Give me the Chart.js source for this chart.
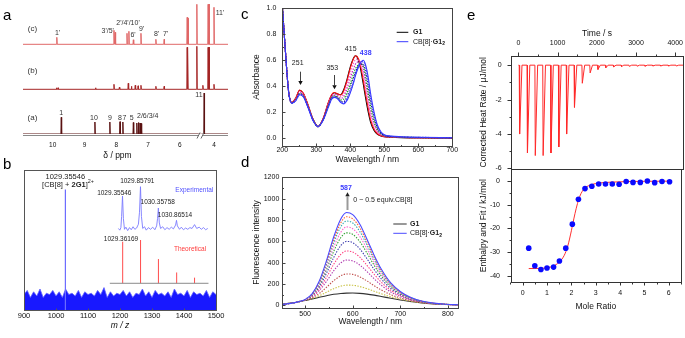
<!DOCTYPE html>
<html lang="en">
<head>
<meta charset="UTF-8">
<meta name="viewport" content="width=device-width, initial-scale=1.0">
<title>G1 / CB[8] host-guest characterisation</title>
<script src="https://cdn.jsdelivr.net/npm/chart.js@4"></script>
<style>
  body { margin: 0; background: #fff; }
  #fig { position: relative; width: 685px; height: 338px; overflow: hidden; background: #fff; }
  #fig canvas { position: absolute; }
  .tag { position: absolute; font: 15px 'Liberation Sans', Arial, sans-serif; line-height: 1; color: #000; }
</style>
</head>
<body>
<div id="fig">
  <canvas id="nmr" width="232" height="161" style="left:0;top:0"></canvas>
  <canvas id="ms" width="232" height="171" style="left:0;top:160px"></canvas>
  <canvas id="uv" width="240" height="165" style="left:220px;top:0"></canvas>
  <canvas id="fl" width="240" height="162" style="left:220px;top:165px"></canvas>
  <canvas id="itcRaw" width="225" height="175" style="left:460px;top:0"></canvas>
  <canvas id="itcFit" width="225" height="147" style="left:460px;top:165px"></canvas>
  <div class="tag" style="left:3px;top:7px">a</div>
  <div class="tag" style="left:3px;top:156px">b</div>
  <div class="tag" style="left:241px;top:6px">c</div>
  <div class="tag" style="left:241px;top:154px">d</div>
  <div class="tag" style="left:467px;top:7px">e</div>
</div>

<script>
const FONT = "'Liberation Sans', Arial, sans-serif";
Chart.defaults.font.family = FONT;
Chart.defaults.color = '#111';

// ---- a: 1H NMR, peaks as [ppm, relative height] ----
const nmrTicks = [10, 9, 8, 7, 6, 4];
const nmrFree = [[9.73, 16.7], [8.67, 12], [8.20, 12], [7.88, 12.3], [7.79, 12], [7.46, 11.5],
  [7.35, 11], [7.30, 11.5], [7.25, 11], [7.21, 10.5], [4.31, 41]];
const nmrMix = [[9.88, 1.5], [9.83, 1.5], [8.65, 1.5], [8.07, 5], [7.90, 2], [7.62, 6], [7.52, 3],
  [7.40, 4], [7.31, 3.5], [7.22, 4], [6.75, 3], [6.49, 3], [5.765, 42], [5.745, 42], [5.46, 43],
  [4.35, 4], [4.185, 42], [4.155, 42], [4.00, 5]];
const nmrComplex = [[9.87, 7], [8.07, 14], [8.03, 12], [7.66, 11], [7.60, 13], [7.46, 4.5], [7.22, 11],
  [6.75, 5], [6.49, 5], [5.765, 27], [5.735, 26], [5.46, 40], [4.185, 40], [4.155, 40], [4.00, 37]];

// ---- b: ESI-MS ----
const msTicks = [900, 1000, 1100, 1200, 1300, 1400, 1500];
const msPeakMz = [1029.355];
const msPeakInt = [86];
const noiseStart = 900, noiseStep = 10;
const msNoise = [11, 14, 9, 13, 10, 15, 9, 12, 11, 14, 10, 13, 9, 15, 11, 12, 10, 14, 9, 13, 11, 12, 10, 14,
  11, 16, 9, 13, 10, 12, 11, 14, 10, 13, 9, 12, 11, 15, 10, 13, 9, 14, 11, 12, 10, 13, 9, 15, 11, 12, 10,
  14, 9, 13, 11, 12, 10, 14, 9, 13, 11];
const expMz = [1029.24, 1029.28, 1029.31, 1029.33, 1029.355, 1029.38, 1029.41, 1029.45, 1029.5, 1029.55,
  1029.6, 1029.65, 1029.7, 1029.75, 1029.8, 1029.83, 1029.858, 1029.885, 1029.92, 1029.97, 1030.02,
  1030.08, 1030.14, 1030.2, 1030.26, 1030.31, 1030.335, 1030.358, 1030.385, 1030.42, 1030.48, 1030.54,
  1030.6, 1030.66, 1030.72, 1030.78, 1030.84, 1030.865, 1030.89, 1030.95, 1031.0, 1031.06, 1031.12,
  1031.18, 1031.24, 1031.3, 1031.37, 1031.43, 1031.5, 1031.56, 1031.62, 1031.68, 1031.74];
const expInt = [2, -2, 4, 30, 78, 25, 0, 5, -3, 4, -1, 6, 0, 3, 12, 40, 100, 30, 2, 6, -2, 4, 0, 5, -1, 8,
  25, 50, 15, 2, 6, -1, 4, 0, 5, 1, 10, 21, 8, 0, 5, -1, 3, 0, 4, 2, 11, 2, 5, 0, 4, -1, 2];
const theoMz = [1029.36, 1029.86, 1030.36, 1030.87, 1031.37];
const theoInt = [96, 100, 56, 25, 13];
const theoRange = [1029.0, 1031.76];

// ---- c: UV-vis titration ----
const uvWl = [200, 205, 210, 215, 220, 228, 240, 251, 262, 275, 290, 305, 320, 335, 345, 353, 362, 372, 380,
  390, 400, 410, 415, 420, 428, 438, 445, 452, 460, 470, 480, 490, 500, 520, 550, 600, 700];
const uvG1 = [1.02, 0.83, 0.64, 0.46, 0.33, 0.275, 0.31, 0.37, 0.345, 0.26, 0.15, 0.09, 0.15, 0.27, 0.33, 0.35,
  0.34, 0.335, 0.37, 0.45, 0.55, 0.62, 0.635, 0.625, 0.56, 0.42, 0.31, 0.21, 0.12, 0.06, 0.03, 0.018, 0.012,
  0.008, 0.005, 0.003, 0.0];
const uvEq1 = [1.02, 0.83, 0.64, 0.46, 0.33, 0.275, 0.312, 0.372, 0.347, 0.262, 0.15, 0.09, 0.15, 0.272, 0.335,
  0.352, 0.343, 0.333, 0.36, 0.44, 0.54, 0.615, 0.635, 0.63, 0.58, 0.45, 0.34, 0.24, 0.14, 0.07, 0.035, 0.02,
  0.013, 0.009, 0.006, 0.004, 0.001];
const uvEq2 = [1.02, 0.83, 0.64, 0.46, 0.33, 0.274, 0.305, 0.36, 0.337, 0.255, 0.148, 0.09, 0.148, 0.262, 0.325,
  0.34, 0.333, 0.32, 0.34, 0.41, 0.50, 0.58, 0.605, 0.61, 0.585, 0.49, 0.38, 0.28, 0.17, 0.09, 0.045, 0.025,
  0.016, 0.01, 0.007, 0.004, 0.001];
const uvEq3 = [1.02, 0.83, 0.64, 0.46, 0.33, 0.273, 0.30, 0.352, 0.33, 0.25, 0.145, 0.09, 0.145, 0.256, 0.318,
  0.333, 0.325, 0.307, 0.32, 0.38, 0.46, 0.54, 0.57, 0.585, 0.59, 0.53, 0.43, 0.32, 0.20, 0.11, 0.055, 0.03,
  0.018, 0.011, 0.008, 0.005, 0.002];
const uvEq4 = [1.02, 0.83, 0.64, 0.46, 0.33, 0.272, 0.297, 0.345, 0.325, 0.246, 0.143, 0.09, 0.143, 0.25, 0.312,
  0.327, 0.318, 0.295, 0.30, 0.35, 0.42, 0.50, 0.535, 0.555, 0.575, 0.555, 0.47, 0.36, 0.24, 0.13, 0.065, 0.035,
  0.02, 0.012, 0.009, 0.006, 0.002];
const uvEq5 = [1.02, 0.83, 0.64, 0.46, 0.33, 0.271, 0.295, 0.34, 0.322, 0.244, 0.141, 0.09, 0.141, 0.245, 0.307,
  0.322, 0.312, 0.285, 0.28, 0.32, 0.39, 0.47, 0.51, 0.54, 0.57, 0.57, 0.51, 0.41, 0.28, 0.16, 0.08, 0.04,
  0.022, 0.013, 0.01, 0.007, 0.003];
const uvEq6 = [1.02, 0.83, 0.64, 0.46, 0.33, 0.27, 0.293, 0.337, 0.32, 0.242, 0.14, 0.09, 0.14, 0.24, 0.303,
  0.318, 0.308, 0.278, 0.27, 0.30, 0.36, 0.44, 0.49, 0.53, 0.575, 0.59, 0.55, 0.45, 0.31, 0.18, 0.09, 0.045,
  0.025, 0.015, 0.011, 0.008, 0.004];
const uvComplex = [1.02, 0.83, 0.64, 0.46, 0.33, 0.27, 0.29, 0.335, 0.318, 0.24, 0.138, 0.09, 0.138, 0.236, 0.30,
  0.315, 0.305, 0.275, 0.265, 0.29, 0.35, 0.43, 0.48, 0.52, 0.57, 0.60, 0.565, 0.48, 0.34, 0.20, 0.10, 0.05,
  0.028, 0.017, 0.012, 0.008, 0.004];
const uvXTicks = [200, 300, 400, 500, 600, 700];
const uvYTicks = [0, 0.2, 0.4, 0.6, 0.8, 1.0];

// ---- d: fluorescence titration ----
const flWl = [452, 470, 485, 500, 515, 530, 545, 560, 575, 587, 600, 615, 630, 645, 660, 680, 700, 720, 745, 770, 795, 822];
const flEq0 = [10, 20, 32, 45, 60, 75, 90, 103, 111, 114, 115, 112, 105, 95, 83, 66, 50, 36, 22, 13, 7, 4];
const flEq1 = [10, 20, 32, 46, 65, 90, 123, 156, 180, 189, 188, 176, 156, 132, 108, 80, 58, 40, 24, 14, 7, 4];
const flEq2 = [10, 20, 32, 47, 72, 112, 169, 231, 277, 294, 290, 266, 228, 184, 144, 100, 69, 46, 26, 15, 8, 4];
const flEq3 = [9, 19, 32, 49, 81, 139, 225, 323, 398, 424, 416, 378, 316, 249, 188, 125, 83, 53, 29, 16, 8, 4];
const flEq4 = [9, 19, 32, 50, 86, 156, 263, 384, 477, 509, 499, 451, 374, 291, 217, 141, 92, 58, 31, 17, 9, 5];
const flEq5 = [9, 19, 32, 51, 92, 175, 302, 448, 560, 599, 587, 528, 436, 336, 248, 158, 101, 63, 34, 17, 9, 5];
const flEq6 = [9, 19, 32, 52, 97, 191, 337, 505, 634, 679, 665, 597, 490, 376, 275, 174, 110, 67, 35, 18, 9, 5];
const flEq7 = [8, 18, 32, 53, 101, 202, 361, 544, 685, 735, 718, 644, 528, 403, 294, 184, 116, 70, 37, 19, 9, 5];
const flEq8 = [8, 18, 32, 54, 105, 214, 385, 583, 736, 790, 772, 691, 565, 430, 313, 195, 122, 74, 38, 19, 10, 5];
const flEq9 = [8, 18, 32, 54, 107, 222, 403, 611, 773, 830, 811, 726, 593, 450, 326, 202, 126, 76, 39, 20, 10, 5];
const flEq10 = [8, 18, 32, 55, 110, 230, 420, 640, 810, 870, 850, 760, 620, 470, 340, 210, 130, 78, 40, 20, 10, 5];
const flXTicks = [500, 600, 700, 800];
const flYTicks = [0, 200, 400, 600, 800, 1000, 1200];

// ---- e: ITC ----
const runStart = 0, runEnd = 4200;
const injTime = [20, 220, 420, 620, 820, 1020, 1220, 1420, 1620, 1820, 2020, 2220, 2420, 2620, 2820, 3020,
  3220, 3420, 3620, 3820, 4020];
const injHeat = [-4.0, -5.1, -5.25, -5.25, -5.1, -4.75, -4.0, -2.45, -1.05, -0.45, -0.25, -0.15, -0.1, -0.08,
  -0.07, -0.06, -0.06, -0.05, -0.05, -0.05, -0.05];
const itcTimeTicks = [0, 1000, 2000, 3000, 4000];
const itcRateTicks = [-6, -4, -2, 0];
const itcRatio = [0.25, 0.5, 0.75, 1.0, 1.27, 1.51, 1.77, 2.04, 2.29, 2.56, 2.84, 3.12, 3.4, 3.68, 3.96, 4.25,
  4.53, 4.83, 5.12, 5.42, 5.72, 6.03];
const itcEnthalpy = [-28.3, -35.7, -37.3, -36.7, -36.3, -33.7, -28.3, -18.2, -7.7, -3.2, -2.2, -1.3, -1.3, -1.3,
  -1.4, -0.2, -0.6, -0.6, 0, -0.7, -0.2, -0.3];
const fitRatio = [0.25, 0.5, 0.75, 1.0, 1.25, 1.5, 1.7, 1.85, 2.0, 2.1, 2.2, 2.3, 2.4, 2.5, 2.6, 2.8, 3.0, 3.3,
  3.6, 4.0, 4.5, 5.0, 5.5, 6.05];
const fitEnthalpy = [-36.9, -36.9, -36.8, -36.6, -35.9, -34.2, -31.5, -27.5, -21, -16, -11.5, -7.8, -5.2, -3.6,
  -2.6, -1.6, -1.1, -0.7, -0.5, -0.35, -0.2, -0.15, -0.1, -0.07];
const itcRatioTicks = [0, 1, 2, 3, 4, 5, 6];
const itcEnthalpyTicks = [-40, -30, -20, -10, 0];

// ---------- helpers ----------
const common = {
  responsive: false, animation: false, events: [],
  plugins: { legend: { display: false }, tooltip: { enabled: false } },
  elements: { point: { radius: 0 }, line: { borderWidth: 1, borderJoinStyle: 'round' } }
};

function axis(o) {
  return {
    type: 'linear', min: o.min, max: o.max, position: o.pos, reverse: !!o.reverse,
    grid: { display: false, drawTicks: false }, border: { display: false },
    afterFit: s => {
      if (s.isHorizontal()) s.height = o.size; else s.width = o.size;
      s.paddingTop = s.paddingBottom = s.paddingLeft = s.paddingRight = 0;
    },
    afterBuildTicks: s => { s.ticks = o.ticks.map(v => ({ value: v })); },
    ticks: { padding: o.pad, autoSkip: false, maxRotation: 0, color: '#111',
      font: { size: o.font || 7 }, callback: o.fmt || (v => String(v)) },
    title: o.title
      ? { display: true, text: o.title, padding: 0, color: '#111', font: { size: 8.5, style: o.italic ? 'italic' : 'normal' } }
      : { display: false }
  };
}

function richText(ctx, n) {
  const size = n.size || 7;
  const parts = typeof n.text === 'string' ? [{ t: n.text }] : n.text;
  const fontOf = p => (p.b ? 'bold ' : '') + ((p.sub || p.sup) ? size * 0.72 : size) + 'px ' + FONT;
  let w = 0;
  parts.forEach(p => { ctx.font = fontOf(p); w += ctx.measureText(p.t).width; });
  let x = n.align === 'left' ? n.x : n.x - w / 2;
  ctx.textAlign = 'left';
  ctx.textBaseline = 'middle';
  ctx.fillStyle = n.color || '#222';
  parts.forEach(p => {
    ctx.font = fontOf(p);
    const dy = p.sub ? size * 0.32 : p.sup ? -size * 0.38 : 0;
    ctx.fillText(p.t, x, n.y + dy);
    x += ctx.measureText(p.t).width;
  });
}

// frame, tick marks, legend lines, arrows and labels
function decor(spec) {
  return {
    id: 'decor',
    afterDraw(chart) {
      const ctx = chart.ctx, a = chart.chartArea;
      const r = v => Math.round(v) + 0.5;
      ctx.save();
      ctx.lineWidth = 1;
      if (spec.frame) {
        ctx.strokeStyle = spec.frame;
        ctx.strokeRect(r(a.left), r(a.top), Math.round(a.right) - Math.round(a.left), Math.round(a.bottom) - Math.round(a.top));
      }
      if (spec.baseAxis) {
        ctx.strokeStyle = spec.baseAxis;
        ctx.beginPath(); ctx.moveTo(a.left, r(a.bottom) + 1); ctx.lineTo(a.right, r(a.bottom) + 1); ctx.stroke();
      }
      (spec.ticks || []).forEach(t => {
        const s = chart.scales[t.scale];
        ctx.strokeStyle = t.color || spec.frame || '#333';
        t.values.forEach(v => {
          const p = r(s.getPixelForValue(v));
          ctx.beginPath();
          if (s.isHorizontal()) {
            const y0 = r(t.edge === 'top' ? a.top : a.bottom) + (t.shift || 0);
            const dir = (t.edge === 'top' ? -1 : 1) * (t.out ? 1 : -1);
            ctx.moveTo(p, y0); ctx.lineTo(p, y0 + dir * t.len);
          } else {
            const x0 = r(a.left);
            ctx.moveTo(x0, p); ctx.lineTo(x0 + (t.out ? -1 : 1) * t.len, p);
          }
          ctx.stroke();
        });
      });
      if (spec.gap) {
        const g = spec.gap, px = chart.scales.x.getPixelForValue(g.at), y = r(a.bottom) + 1;
        ctx.fillStyle = '#fff';
        ctx.fillRect(px - 2, y - 2, 4, 4);
        ctx.strokeStyle = g.color;
        [-2, 2].forEach(dx => { ctx.beginPath(); ctx.moveTo(px + dx - 1.5, y + 3); ctx.lineTo(px + dx + 1.5, y - 3); ctx.stroke(); });
      }
      (spec.segments || []).forEach(l => {
        ctx.strokeStyle = l.color; ctx.lineWidth = l.width || 1;
        const xs = l.xs ? chart.scales[l.xs] : null, ys = l.ys ? chart.scales[l.ys] : null;
        const x1 = xs ? xs.getPixelForValue(l.x1) : l.x1, x2 = xs ? xs.getPixelForValue(l.x2) : l.x2;
        const y = ys ? ys.getPixelForValue(l.y) : l.y;
        ctx.beginPath(); ctx.moveTo(x1, y); ctx.lineTo(x2, y); ctx.stroke();
      });
      (spec.arrows || []).forEach(ar => {
        const x = Math.round(chart.scales.x.getPixelForValue(ar.xv)) + 0.5;
        const dir = Math.sign(ar.y2 - ar.y1);
        ctx.strokeStyle = ar.color; ctx.lineWidth = ar.width;
        ctx.beginPath(); ctx.moveTo(x, ar.y1); ctx.lineTo(x, ar.y2 - dir * ar.head); ctx.stroke();
        ctx.fillStyle = ar.headColor || ar.color;
        ctx.beginPath();
        ctx.moveTo(x, ar.y2);
        ctx.lineTo(x - ar.head * 0.55, ar.y2 - dir * ar.head);
        ctx.lineTo(x + ar.head * 0.55, ar.y2 - dir * ar.head);
        ctx.closePath(); ctx.fill();
      });
      (spec.texts || []).forEach(n => richText(ctx, n));
      ctx.restore();
    }
  };
}

// ---------- a: NMR ----------
const breakAt = 4.9, breakShift = 0.92, stickHalf = 0.012;
const ppmX = p => (p < breakAt ? p + breakShift : p);
function sticks(peaks) {
  const pts = [{ x: 10.95, y: 0 }];
  peaks.slice().sort((a, b) => b[0] - a[0]).forEach(([p, h]) => {
    const v = ppmX(p);
    pts.push({ x: v + stickHalf, y: 0 }, { x: v, y: h }, { x: v - stickHalf, y: 0 });
  });
  pts.push({ x: 4.45, y: 0 });
  return pts;
}

const nmrLabel = (x, y, text, size) => ({ x, y, text, size: size || 7, color: '#333' });
new Chart(document.getElementById('nmr'), {
  type: 'line',
  data: { datasets: [
    { data: sticks(nmrComplex), yAxisID: 'yc', borderColor: '#e06868' },
    { data: sticks(nmrMix), yAxisID: 'yb', borderColor: '#a52626' },
    { data: sticks(nmrFree), yAxisID: 'ya', borderColor: '#5a1212' }
  ] },
  options: { ...common,
    layout: { padding: { left: 23, right: 4, top: 0, bottom: 0 } },
    scales: {
      x: axis({ min: 4.479, max: 10.935, reverse: true, size: 27, pad: 7.5, font: 6.5,
        ticks: nmrTicks.map(ppmX), fmt: v => String(Math.round(v > 5.5 ? v : v - breakShift)) }),
      ya: { display: false, min: 0, max: 134 },
      yb: { display: false, min: -44.7, max: 89.3 },
      yc: { display: false, min: -89.7, max: 44.3 }
    }
  },
  plugins: [decor({
    baseAxis: '#8a8a8a',
    gap: { at: 5.345, color: '#666' },
    texts: [
      nmrLabel(32.5, 29, '(c)', 8), nmrLabel(32.5, 71, '(b)', 8), nmrLabel(32.5, 117.7, '(a)', 8),
      nmrLabel(57.7, 33, "1'"), nmrLabel(107.7, 30.7, "3'/5'"), nmrLabel(128, 23, "2'/4'/10'"),
      nmrLabel(133, 35.5, "6'"), nmrLabel(141.7, 29, "9'"), nmrLabel(156.7, 34, "8'"), nmrLabel(165.7, 34, "7'"),
      nmrLabel(220, 12.7, "11'"),
      nmrLabel(61.3, 113, '1'), nmrLabel(94, 117.7, '10'), nmrLabel(110, 117.7, '9'), nmrLabel(120, 117.7, '8'),
      nmrLabel(124.5, 117.7, '7'), nmrLabel(131.7, 117.7, '5'), nmrLabel(147.7, 115.7, '2/6/3/4'),
      nmrLabel(199, 95, '11'),
      { x: 117.5, y: 156, text: 'δ / ppm', size: 8.5, color: '#111' }
    ]
  })]
});

// ---------- b: MS ----------
const stickPts = (xs, ys) => xs.flatMap((m, i) => [{ x: m, y: 0 }, { x: m, y: ys[i] }, { x: m, y: null }]);
new Chart(document.getElementById('ms'), {
  type: 'line',
  data: { datasets: [
    { data: stickPts(msPeakMz, msPeakInt), borderColor: '#6c6cff', borderWidth: 1.2 },
    { data: msNoise.map((v, i) => ({ x: noiseStart + i * noiseStep, y: v })),
      borderColor: '#6060ff', backgroundColor: '#1818ff', fill: 'origin', borderWidth: 0.8, borderJoinStyle: 'miter' },
    { data: expMz.map((m, i) => ({ x: m, y: expInt[i] })), xAxisID: 'xi', yAxisID: 'ye', borderColor: '#7b7bff', borderWidth: 0.9 },
    { data: stickPts(theoMz, theoInt), xAxisID: 'xi', yAxisID: 'yt', borderColor: '#ff4c4c', borderWidth: 1 }
  ] },
  options: { ...common,
    layout: { padding: { left: 24, right: 16, top: 10, bottom: 0 } },
    scales: {
      x: axis({ min: 900, max: 1500, size: 21, pad: 1, font: 7.5, ticks: msTicks, title: 'm / z', italic: true }),
      y: { display: false, min: 0, max: 100 },
      xi: { type: 'linear', display: false, min: 1026.6, max: 1031.97 },
      ye: { display: false, min: -189.4, max: 139.2 },
      yt: { display: false, min: -61.7, max: 261.7 }
    }
  },
  plugins: [decor({
    frame: '#555',
    ticks: [{ scale: 'x', values: msTicks, len: 2, out: false }],
    segments: [{ xs: 'xi', ys: 'yt', x1: theoRange[0], x2: theoRange[1], y: 0, color: '#8a8a8a' }],
    texts: [
      { x: 65.3, y: 17.3, text: '1029.35546', size: 7.5 },
      { x: 68, y: 24.8, size: 7.5, text: [{ t: '[CB[8] + ' }, { t: '2G1', b: true }, { t: ']' }, { t: '2+', sup: true }] },
      { x: 137.3, y: 21, text: '1029.85791', size: 6.5 },
      { x: 114.3, y: 33.3, text: '1029.35546', size: 6.5 },
      { x: 157.7, y: 42.3, text: '1030.35758', size: 6.5 },
      { x: 175, y: 55, text: '1030.86514', size: 6.5 },
      { x: 194.3, y: 30.7, text: 'Experimental', size: 6.5, color: '#5050ff' },
      { x: 121, y: 79.3, text: '1029.36169', size: 6.5 },
      { x: 190, y: 89, text: 'Theoretical', size: 6.5, color: '#ff3a3a' }
    ]
  })]
});

// ---------- c: UV-vis ----------
const uvSeries = [uvG1, uvEq1, uvEq2, uvEq3, uvEq4, uvEq5, uvEq6, uvComplex];
const uvColors = ['#000000', '#ff1010', '#ff50c0', '#c020c0', '#10a010', '#101090', '#3a3aff', '#3a3aff'];
const dotted = [1.4, 1.4];
new Chart(document.getElementById('uv'), {
  type: 'line',
  data: { datasets: uvSeries.map((s, k) => ({
    data: uvWl.map((w, i) => ({ x: w, y: s[i] })),
    borderColor: uvColors[k], borderWidth: 1.1,
    borderDash: (k === 0 || k === 1 || k === uvSeries.length - 1) ? [] : dotted,
    cubicInterpolationMode: 'monotone', order: -k
  })) },
  options: { ...common,
    layout: { padding: { left: 31.6, right: 7.7, top: 8.3, bottom: 0 } },
    scales: {
      x: axis({ min: 200, max: 700, size: 19.3, pad: 0.5, ticks: uvXTicks, title: 'Wavelength / nm' }),
      y: axis({ min: -0.057, max: 1.0, size: 30.7, pad: 6, ticks: uvYTicks, fmt: v => v.toFixed(1), title: 'Absorbance' })
    }
  },
  plugins: [decor({
    frame: '#444',
    ticks: [
      { scale: 'x', values: uvXTicks, len: 3 }, { scale: 'x', values: [250, 350, 450, 550, 650], len: 1.5 },
      { scale: 'y', values: uvYTicks, len: 3 }, { scale: 'y', values: [0.1, 0.3, 0.5, 0.7, 0.9], len: 1.5 }
    ],
    segments: [
      { x1: 176.7, x2: 188.3, y: 32.3, color: '#000', width: 1 },
      { x1: 176.7, x2: 188.3, y: 41.7, color: '#3a3aff', width: 1 }
    ],
    arrows: [
      { xv: 251, y1: 71.7, y2: 85, color: '#111', width: 0.8, head: 4 },
      { xv: 353, y1: 75, y2: 89.3, color: '#111', width: 0.8, head: 4 }
    ],
    texts: [
      { x: 77.7, y: 63.3, text: '251' }, { x: 112.3, y: 68.3, text: '353' },
      { x: 130.7, y: 49.3, text: '415' }, { x: 145.7, y: 53.3, text: [{ t: '438', b: true }], color: '#3a3aff' },
      { x: 193, y: 32.3, align: 'left', text: [{ t: 'G1', b: true }] },
      { x: 193, y: 41.7, align: 'left', text: [{ t: 'CB[8]·' }, { t: 'G1', b: true }, { t: '2', b: true, sub: true }] }
    ]
  })]
});

// ---------- d: fluorescence ----------
const flSeries = [flEq0, flEq1, flEq2, flEq3, flEq4, flEq5, flEq6, flEq7, flEq8, flEq9, flEq10];
const flColors = ['#333333', '#c8c040', '#c0504d', '#b03cb0', '#ff4080', '#3c3cae', '#30a030', '#ff60d0',
  '#30a8b0', '#ff6030', '#4a4aff'];
new Chart(document.getElementById('fl'), {
  type: 'line',
  data: { datasets: flSeries.map((s, k) => ({
    data: flWl.map((w, i) => ({ x: w, y: s[i] })),
    borderColor: flColors[k], borderWidth: 1.1,
    borderDash: (k === 0 || k === flSeries.length - 1) ? [] : dotted,
    cubicInterpolationMode: 'monotone', order: -k
  })) },
  options: { ...common,
    layout: { padding: { left: 31.6, right: 1.7, top: 12.3, bottom: 0 } },
    scales: {
      x: axis({ min: 452, max: 822, size: 19.3, pad: 2, ticks: flXTicks, title: 'Wavelength / nm' }),
      y: axis({ min: -22.5, max: 1200, size: 30.7, pad: 3, ticks: flYTicks, title: 'Fluorescence intensity' })
    }
  },
  plugins: [decor({
    frame: '#444',
    ticks: [
      { scale: 'x', values: flXTicks, len: 3 }, { scale: 'x', values: [550, 650, 750], len: 1.5 },
      { scale: 'y', values: flYTicks, len: 3 }, { scale: 'y', values: [100, 300, 500, 700, 900, 1100], len: 1.5 }
    ],
    segments: [
      { x1: 173.3, x2: 186.7, y: 59, color: '#333', width: 1 },
      { x1: 173.3, x2: 186.7, y: 68.3, color: '#4a4aff', width: 1 }
    ],
    arrows: [{ xv: 587, y1: 45, y2: 27.3, color: '#9a9a9a', headColor: '#222', width: 2, head: 4 }],
    texts: [
      { x: 126, y: 23.3, text: [{ t: '587', b: true }], color: '#3a3aff' },
      { x: 133.3, y: 35, align: 'left', text: '0 ~ 0.5 equiv.CB[8]' },
      { x: 190, y: 59, align: 'left', text: [{ t: 'G1', b: true }] },
      { x: 190, y: 68.3, align: 'left', text: [{ t: 'CB[8]·' }, { t: 'G1', b: true }, { t: '2', b: true, sub: true }] }
    ]
  })]
});

// ---------- e: ITC raw heat ----------
const itcTrace = [{ x: runStart, y: 0 }];
injTime.forEach((t, i) => itcTrace.push({ x: t, y: 0 }, { x: t + 10, y: injHeat[i] }, { x: t + 70, y: 0 }));
itcTrace.push({ x: runEnd, y: 0 });
new Chart(document.getElementById('itcRaw'), {
  type: 'line',
  data: { datasets: [{ data: itcTrace, borderColor: '#ff2a2a', borderWidth: 1 }] },
  options: { ...common,
    layout: { padding: { left: 18.9, right: 2, top: 28.2, bottom: 6 } },
    scales: {
      x: axis({ min: -190, max: 4200, pos: 'top', size: 27.5, pad: 8.2, ticks: itcTimeTicks, title: 'Time / s' }),
      y: axis({ min: -6.03, max: 0.55, size: 32.1, pad: 9.3, ticks: itcRateTicks, title: 'Corrected Heat Rate / μJ/mol' })
    }
  },
  plugins: [decor({
    frame: '#333',
    ticks: [
      { scale: 'x', edge: 'top', values: itcTimeTicks, len: 4, out: true },
      { scale: 'x', edge: 'top', values: [500, 1500, 2500, 3500], len: 2, out: true },
      { scale: 'y', values: itcRateTicks, len: 4, out: true },
      { scale: 'y', values: [-5, -3, -1], len: 2, out: true }
    ]
  })]
});

// ---------- e: ITC integrated heats ----------
new Chart(document.getElementById('itcFit'), {
  type: 'line',
  data: { datasets: [
    { data: itcRatio.map((m, i) => ({ x: m, y: itcEnthalpy[i] })), showLine: false,
      pointRadius: 2.8, pointBackgroundColor: '#0a0aff', pointBorderWidth: 0 },
    { data: fitRatio.map((m, i) => ({ x: m, y: fitEnthalpy[i] })), borderColor: '#ff3030',
      borderWidth: 1, cubicInterpolationMode: 'monotone' }
  ] },
  options: { ...common,
    layout: { padding: { left: 18.2, right: 2, top: 4, bottom: 0 } },
    scales: {
      x: axis({ min: -0.49, max: 6.5, size: 29.7, pad: 6.8, ticks: itcRatioTicks, title: 'Mole Ratio' }),
      y: axis({ min: -42.7, max: 5.05, size: 32.5, pad: 10.7, ticks: itcEnthalpyTicks, title: 'Enthalpy and Fit / kJ/mol' })
    }
  },
  plugins: [decor({
    frame: '#333',
    ticks: [
      { scale: 'x', values: itcRatioTicks, len: 3, out: true },
      { scale: 'x', values: [-0.5, 0.5, 1.5, 2.5, 3.5, 4.5, 5.5, 6.5], len: 2, out: true },
      { scale: 'y', values: itcEnthalpyTicks, len: 4, out: true },
      { scale: 'y', values: [-35, -25, -15, -5], len: 2, out: true }
    ]
  })]
});
</script>
</body>
</html>
